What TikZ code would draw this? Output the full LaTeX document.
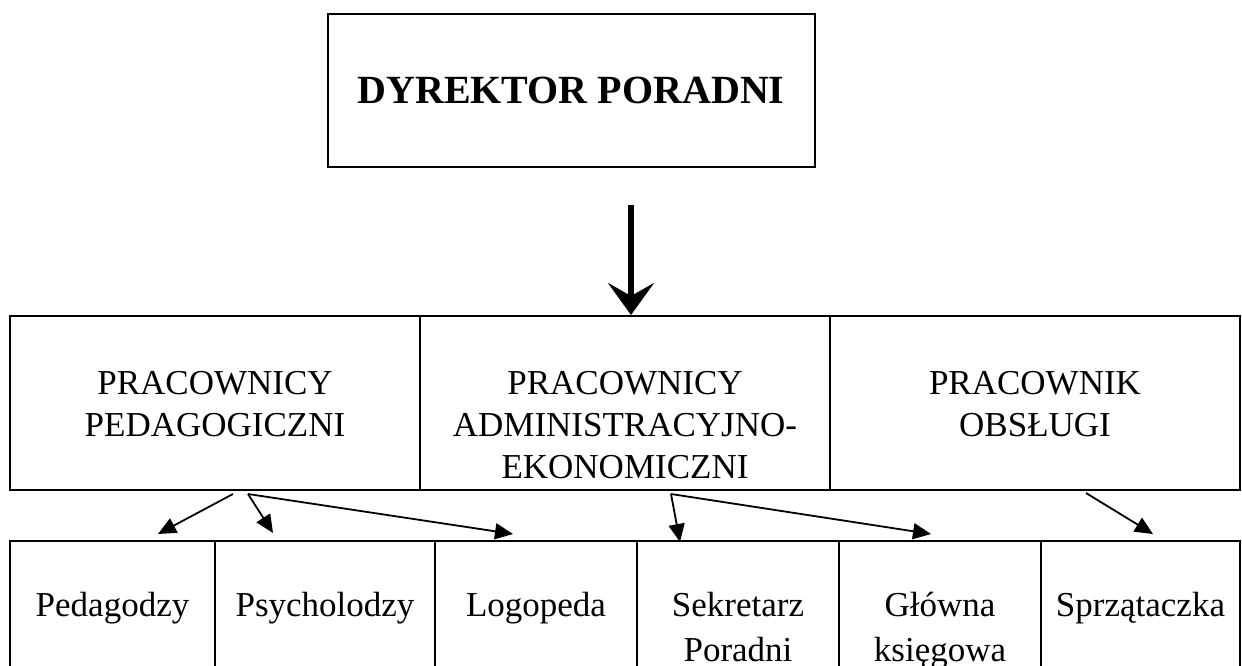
\documentclass[tikz,border=0pt]{standalone}
\usepackage{fontspec}
\setmainfont{Liberation Serif}
\usetikzlibrary{arrows.meta}
\begin{document}
\begin{tikzpicture}[x=1pt,y=-1pt,
  box/.style={draw, line width=2pt, inner sep=0pt},
  lbl/.style={inner sep=0pt, align=center, anchor=north, font=\fontsize{35}{42}\selectfont},
  sublbl/.style={inner sep=0pt, align=center, anchor=north, font=\fontsize{35}{45}\selectfont},
  conn/.style={line width=1.8pt, -{Triangle[length=18pt,width=16pt]}},
  bigarrow/.style={line width=5.5pt, -{Stealth[length=32pt,width=46pt,inset=13pt]}}]
\useasboundingbox (0,0) rectangle (1242,666);
\clip (0,0) rectangle (1242,666);
% top box
\node[box, minimum width=487pt, minimum height=153pt,
  font=\fontsize{40}{48}\selectfont\bfseries] (dyr) at (571,90.5) {DYREKTOR PORADNI};
% middle row
\node[box, minimum width=410pt, minimum height=174pt] (ped) at (215,403) {};
\node[box, minimum width=410pt, minimum height=174pt] (adm) at (625,403) {};
\node[box, minimum width=410pt, minimum height=174pt] (obs) at (1035,403) {};
\node[lbl] (pedT) at ([yshift=-56pt]ped.north) {PRACOWNICY\\PEDAGOGICZNI};
\node[lbl] (admT) at ([yshift=-56pt]adm.north) {PRACOWNICY\\ADMINISTRACYJNO-\\EKONOMICZNI};
\node[lbl] (obsT) at ([yshift=-56pt]obs.north) {PRACOWNIK\\OBSŁUGI};
% bottom row
\node[box, minimum width=205pt, minimum height=160pt] (b1) at (112.5,621) {};
\node[box, minimum width=220pt, minimum height=160pt] (b2) at (325,621) {};
\node[box, minimum width=202pt, minimum height=160pt] (b3) at (536,621) {};
\node[box, minimum width=202pt, minimum height=160pt] (b4) at (738,621) {};
\node[box, minimum width=202pt, minimum height=160pt] (b5) at (940,621) {};
\node[box, minimum width=199pt, minimum height=160pt] (b6) at (1140.5,621) {};
\node[sublbl] (b1T) at ([yshift=-52pt]b1.north) {Pedagodzy};
\node[sublbl] (b2T) at ([yshift=-52pt]b2.north) {Psycholodzy};
\node[sublbl] (b3T) at ([yshift=-52pt]b3.north) {Logopeda};
\node[sublbl] (b4T) at ([yshift=-52pt]b4.north) {Sekretarz\\Poradni};
\node[sublbl] (b5T) at ([yshift=-52pt]b5.north) {Główna\\księgowa};
\node[sublbl] (b6T) at ([yshift=-52pt]b6.north) {Sprzątaczka};
% big arrow
\coordinate (bigS) at (631,205);
\draw[bigarrow] (bigS) -- (bigS |- adm.north);
% small arrows
\coordinate (pa) at (233,494);
\coordinate (pb) at (248,494);
\coordinate (aa) at (671,494);
\coordinate (oa) at (1086,493);
\coordinate (e1) at (158,534);
\coordinate (e2) at (273,533);
\coordinate (e3) at (513,534);
\coordinate (e4) at (680,542);
\coordinate (e5) at (931,534);
\coordinate (e6) at (1153,534);
\draw[conn] (pa) -- (e1);
\draw[conn] (pb) -- (e2);
\draw[conn] (pb) -- (e3);
\draw[conn] (aa) -- (e4);
\draw[conn] (aa) -- (e5);
\draw[conn] (oa) -- (e6);
\end{tikzpicture}
\end{document}
